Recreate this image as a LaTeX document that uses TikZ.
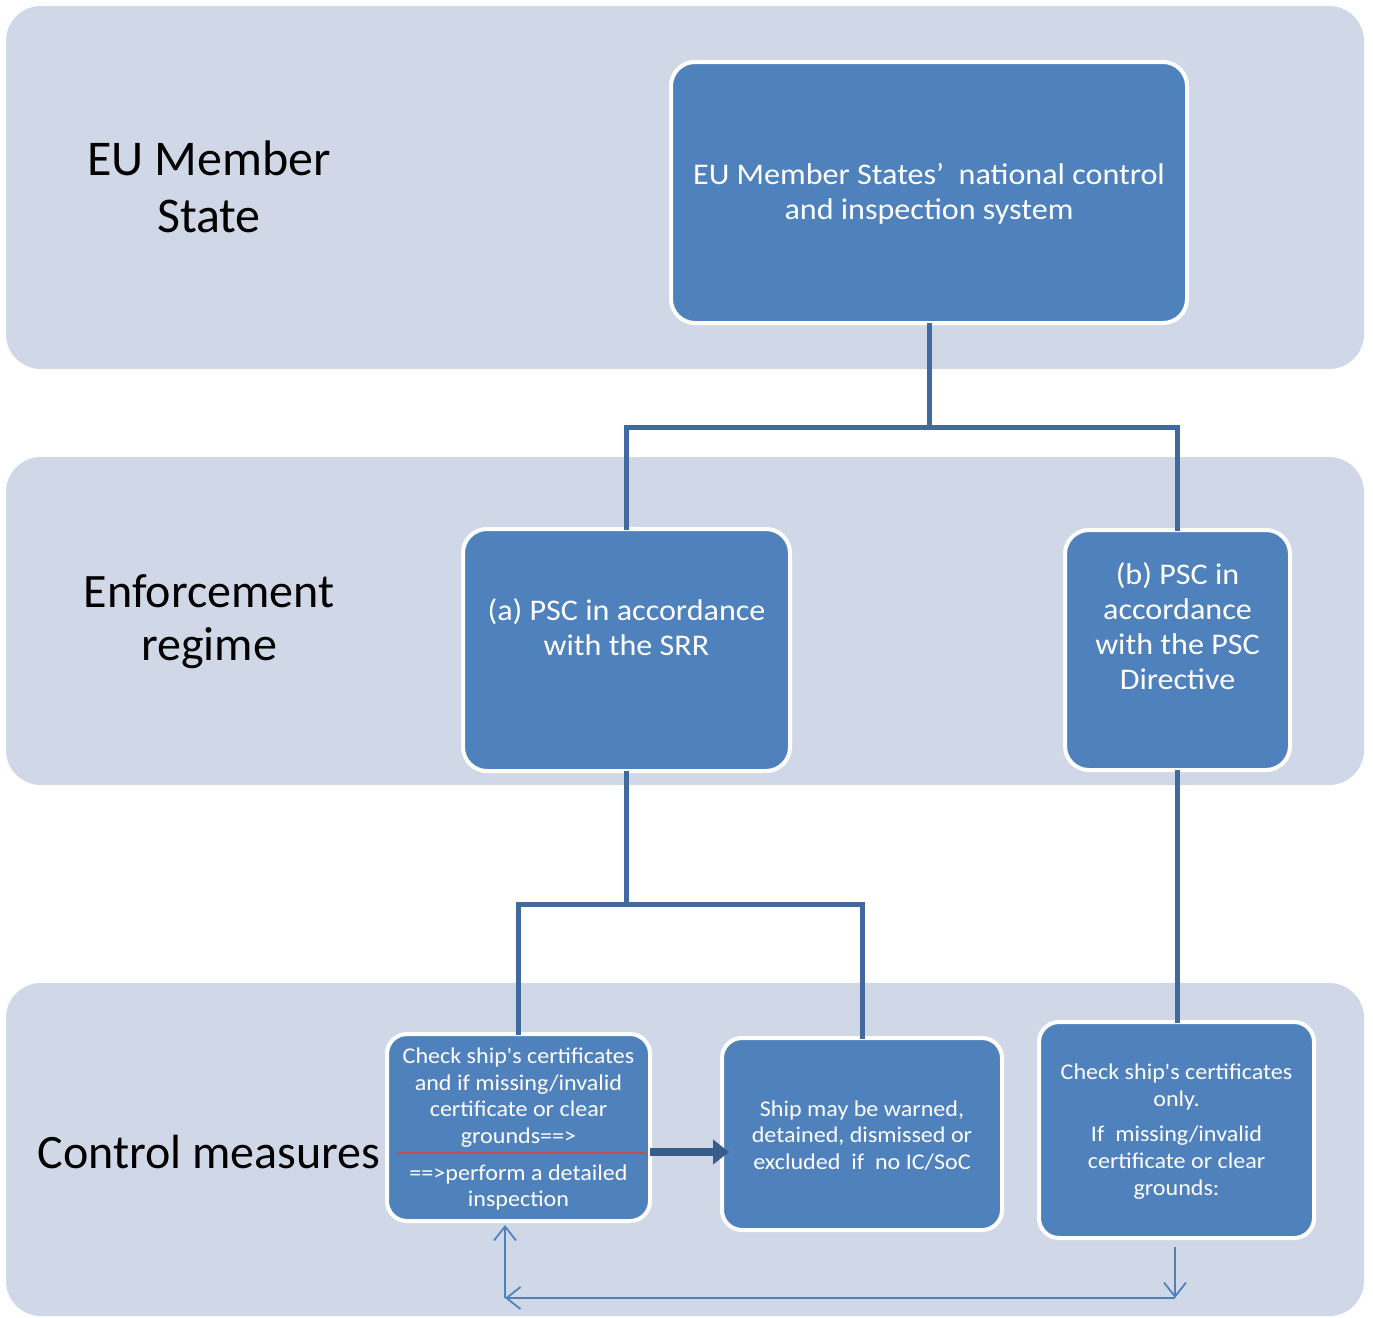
\documentclass[tikz,border=0pt]{standalone}
\usepackage{fontspec}
\setmainfont{Carlito}[Ligatures=TeXOff]
\newfontfamily\boxfont{Carlito}[FakeStretch=1.07, Ligatures=TeXOff]
\usetikzlibrary{arrows.meta}
\definecolor{bandcol}{HTML}{D0D8E8}
\definecolor{boxblue}{HTML}{4F81BD}
\definecolor{conncol}{HTML}{41699E}
\definecolor{bigarrowcol}{HTML}{385D8A}
\definecolor{redlinecol}{HTML}{C0504D}
\definecolor{thincol}{HTML}{4F81BD}
\tikzset{
  bluebox/.style={draw=white, line width=4pt, fill=boxblue, rounded corners=24pt, inner sep=0pt},
  smallbox/.style={bluebox, rounded corners=20pt},
  boxtext/.style={text=white, align=center, inner sep=0pt},
  bandlabel/.style={text=black, align=center, inner sep=0pt},
  connline/.style={draw=conncol, line width=5pt, line cap=rect},
  thinarrow/.style={draw=thincol, line width=1.8pt, -{Straight Barb[length=14pt,width=22pt,line width=1.8pt]}},
  bigarrow/.style={draw=bigarrowcol, line width=8pt, -{Triangle[length=16pt,width=24pt]}}
}
\begin{document}
\begin{tikzpicture}[x=1pt,y=-1pt]
\useasboundingbox (0,0) rectangle (1373,1317);
% bands
\fill[bandcol, rounded corners=35pt] (6,6) rectangle (1364,369);
\fill[bandcol, rounded corners=35pt] (6,457) rectangle (1364,785);
\fill[bandcol, rounded corners=35pt] (6,983) rectangle (1364,1316);
% band labels
\node[bandlabel, font=\fontsize{50}{57}\selectfont] (lab1) at (209,187) {EU Member\\State};
\node[bandlabel, font=\fontsize{48}{53}\selectfont] (lab2) at (209,622) {Enforcement\\regime};
\node[bandlabel, font=\fontsize{48}{57}\selectfont] (lab3) at (209,1152) {Control measures};
% boxes
\node[bluebox, minimum width=516pt, minimum height=261pt] (top) at (929,192.5) {};
\node[bluebox, minimum width=327pt, minimum height=242pt] (a) at (626.5,650) {};
\node[bluebox, minimum width=225pt, minimum height=240pt] (b) at (1177.5,650) {};
\node[smallbox, minimum width=263pt, minimum height=187pt] (bl) at (518.5,1127.5) {};
\node[smallbox, minimum width=280pt, minimum height=192pt] (bm) at (862,1134) {};
\node[smallbox, minimum width=275pt, minimum height=216pt] (br) at (1176.5,1130) {};
% box texts
\node[boxtext, font=\boxfont\fontsize{30}{35}\selectfont] (toptext) at (929,193.5) {EU Member States’\ \ national control\\and inspection system};
\node[boxtext, font=\boxfont\fontsize{30}{35}\selectfont] (atext) at (626.5,627.5) {(a) PSC in accordance\\with the SRR};
\node[boxtext, font=\boxfont\fontsize{30}{35}\selectfont] (btext) at (1177.5,626) {(b) PSC in\\accordance\\with the PSC\\Directive};
\node[boxtext, font=\boxfont\fontsize{22.5}{26.5}\selectfont] (bltext1) at (518.5,1097.5) {Check ship's certificates\\and if missing/invalid\\certificate or clear\\grounds==>};
\node[boxtext, font=\boxfont\fontsize{22.5}{26.5}\selectfont] (bltext2) at (518.5,1187.5) {==>perform a detailed\\inspection};
\node[boxtext, font=\boxfont\fontsize{22.5}{26.5}\selectfont] (bmtext) at (862,1135.5) {Ship may be warned,\\detained, dismissed or\\excluded\ \ if\ \ no IC/SoC};
\node[boxtext, font=\boxfont\fontsize{22.5}{27}\selectfont] (brtext) at (1176.5,1131.5) {Check ship's certificates\\only.\\[8pt]If\ \ missing/invalid\\certificate or clear\\grounds:};
% red separator
\draw[redlinecol, line width=1.5pt] (397,1153) -- (645,1153);
% connectors
\coordinate (jtop) at (929,427);
\coordinate (ja) at (626.5,904);
\draw[connline] (top.south) -- (jtop) -| (a.north);
\draw[connline] (jtop) -| (b.north);
\draw[connline] (a.south) -- (ja) -| (bl.north);
\draw[connline] (ja) -| (bm.north);
\draw[connline] (b.south) -- (b.south |- br.north);
% big arrow
\coordinate (sep) at (518.5,1152);
\draw[bigarrow, shorten <=-2pt, shorten >=-9pt] (bl.east |- sep) -- (bm.west |- sep);
% thin feedback arrows
\coordinate (c1) at (1175,1298);
\coordinate (c2) at (505,1298);
\draw[thinarrow, shorten <=7pt] (br.south -| c1) -- (c1);
\draw[thinarrow] (c1) -- (c2);
\draw[thinarrow, shorten >=2pt] (c2) -- (bl.south -| c2);
\end{tikzpicture}
\end{document}
